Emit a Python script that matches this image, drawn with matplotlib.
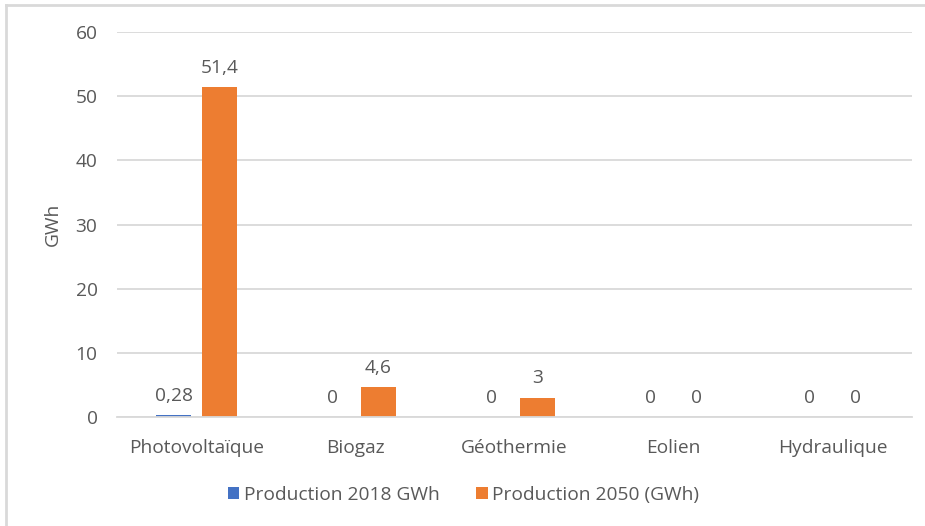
import matplotlib
matplotlib.use("Agg")
import matplotlib.pyplot as plt
import numpy as np
from matplotlib.lines import Line2D

categories = ["Photovoltaïque", "Biogaz", "Géothermie", "Eolien", "Hydraulique"]
prod_2018 = [0.28, 0, 0, 0, 0]
prod_2050 = [51.4, 4.6, 3, 0, 0]
labels_2018 = ["0,28", "0", "0", "0", "0"]
labels_2050 = ["51,4", "4,6", "3", "0", "0"]
series_names = ["Production 2018 GWh", "Production 2050 (GWh)"]
y_ticks = [0, 10, 20, 30, 40, 50, 60]

BLUE = "#4472C4"
ORANGE = "#ED7D31"
TEXT = "#595959"
GRID = "#D9D9D9"
FS = 13.8

plt.rcParams["font.family"] = ["Open Sans", "DejaVu Sans"]

fig = plt.figure(figsize=(9.25, 5.26), dpi=100)
ax = fig.add_axes([117 / 925, 1 - 417 / 526, 795 / 925, 385 / 526])

x = np.arange(len(categories))
width = 0.22
offset = 0.143
b1 = ax.bar(x - offset, prod_2018, width, color=BLUE, label=series_names[0])
b2 = ax.bar(x + offset, prod_2050, width, color=ORANGE, label=series_names[1])

for bars, labs in ((b1, labels_2018), (b2, labels_2050)):
    for rect, lab in zip(bars, labs):
        ax.annotate(lab, (rect.get_x() + rect.get_width() / 2, rect.get_height()),
                    xytext=(0, 7.5), textcoords="offset points", ha="center",
                    va="bottom", fontsize=FS, color=TEXT)

ax.set_xlim(-0.5, len(categories) - 0.5)
ax.set_ylim(0, 60)
ax.set_yticks(y_ticks)
ax.set_yticklabels([str(t) for t in y_ticks])
ax.set_xticks(x)
ax.set_xticklabels(categories)
ax.tick_params(axis="both", length=0, labelsize=FS, labelcolor=TEXT)
ax.tick_params(axis="y", pad=14)
ax.tick_params(axis="x", pad=16)
ax.yaxis.grid(True, color=GRID, linewidth=1.3)
ax.set_axisbelow(True)
for s in ("top", "right", "left"):
    ax.spines[s].set_visible(False)
ax.spines["bottom"].set_color(GRID)
ax.spines["bottom"].set_linewidth(1.3)

ax.set_ylabel("GWh", fontsize=FS, color=TEXT, labelpad=10)

leg = fig.legend(handles=[b1, b2], labels=series_names, loc="center",
                 bbox_to_anchor=(0.501, 1 - 495 / 526), ncol=2, frameon=False,
                 fontsize=FS, handlelength=0.6, handleheight=0.6,
                 handletextpad=0.25, columnspacing=1.9)
for t in leg.get_texts():
    t.set_color(TEXT)

# chart outline along the top and left
fig.add_artist(Line2D([6 / 925, 6 / 925], [0, 1 - 5 / 526], transform=fig.transFigure,
                      color=GRID, linewidth=2))
fig.add_artist(Line2D([6 / 925, 1], [1 - 5 / 526, 1 - 5 / 526], transform=fig.transFigure,
                      color=GRID, linewidth=2))

fig.savefig("out.png", dpi=100)
